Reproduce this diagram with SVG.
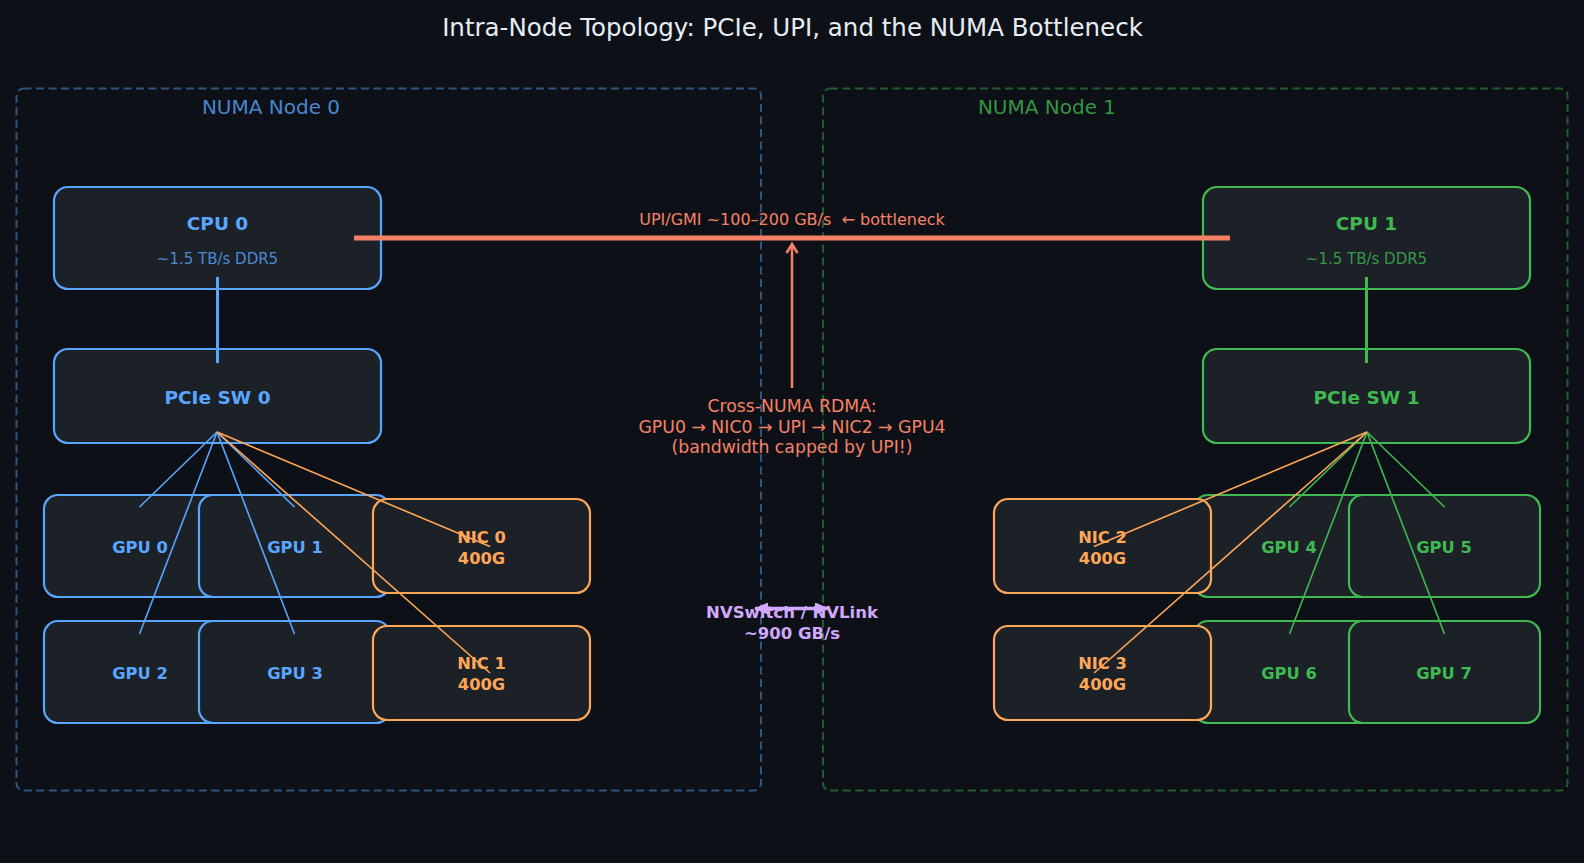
<svg xmlns="http://www.w3.org/2000/svg" width="1584" height="863" viewBox="0 0 1584 863">
<defs>
<style>
text{font-family:"DejaVu Sans","Liberation Sans",sans-serif;text-anchor:middle}
.b{font-weight:bold}
.node{fill:#1c2128;stroke-width:2.2}
.blue{stroke:#58a6ff}.green{stroke:#3fb950}.orange{stroke:#ffa657}
.tb{fill:#58a6ff}.tg{fill:#3fb950}.to{fill:#ffa657}
.numa{fill:none;stroke-width:2;stroke-dasharray:8 4.5;stroke-opacity:0.45}
.fan{stroke-width:1.6;fill:none}
.sal{fill:#f78166}
</style>
<marker id="nvh" viewBox="0 0 14 12" refX="13" refY="6" markerWidth="14" markerHeight="12" markerUnits="userSpaceOnUse" orient="auto-start-reverse">
<path d="M0,0 L14,6 L0,12 Z" fill="#d2a8ff"/>
</marker>
</defs>
<rect width="1584" height="863" fill="#0d1117"/>
<text x="792.5" y="35.5" font-size="24.5" fill="#e6edf3">Intra-Node Topology: PCIe, UPI, and the NUMA Bottleneck</text>

<g id="numa0">
<rect class="numa blue" x="16.5" y="88.5" width="744.5" height="702" rx="7"/>
<text x="271" y="114" font-size="20" fill="#58a6ff" fill-opacity="0.8">NUMA Node 0</text>
</g>
<g id="numa1">
<rect class="numa green" x="823" y="88.5" width="744.5" height="702" rx="7"/>
<text x="1047" y="114" font-size="20" fill="#3fb950" fill-opacity="0.8">NUMA Node 1</text>
</g>

<g id="cpu0">
<rect class="node blue" x="54" y="187" width="327" height="102" rx="14"/>
<text class="b tb" x="217.5" y="230" font-size="18.5">CPU 0</text>
<text class="tb" x="217.5" y="263.5" font-size="15" fill-opacity="0.8">~1.5 TB/s DDR5</text>
</g>
<g id="pcie0">
<rect class="node blue" x="54" y="349" width="327" height="94" rx="14"/>
<text class="b tb" x="217.5" y="404" font-size="18.5">PCIe SW 0</text>
</g>
<g id="gpu0">
<rect class="node blue" x="44" y="495" width="191" height="102" rx="14"/>
<text class="b tb" x="140" y="553" font-size="16.3">GPU 0</text>
</g>
<g id="gpu1">
<rect class="node blue" x="199" y="495" width="191" height="102" rx="14"/>
<text class="b tb" x="295" y="553" font-size="16.3">GPU 1</text>
</g>
<g id="gpu2">
<rect class="node blue" x="44" y="621" width="191" height="102" rx="14"/>
<text class="b tb" x="140" y="679" font-size="16.3">GPU 2</text>
</g>
<g id="gpu3">
<rect class="node blue" x="199" y="621" width="191" height="102" rx="14"/>
<text class="b tb" x="295" y="679" font-size="16.3">GPU 3</text>
</g>
<g id="nic0">
<rect class="node orange" x="373" y="499" width="217" height="94" rx="14"/>
<text class="b to" x="481.5" y="543" font-size="16.3">NIC 0</text>
<text class="b to" x="481.5" y="564" font-size="16.3">400G</text>
</g>
<g id="nic1">
<rect class="node orange" x="373" y="626" width="217" height="94" rx="14"/>
<text class="b to" x="481.5" y="669" font-size="16.3">NIC 1</text>
<text class="b to" x="481.5" y="690" font-size="16.3">400G</text>
</g>

<g id="cpu1">
<rect class="node green" x="1203" y="187" width="327" height="102" rx="14"/>
<text class="b tg" x="1366.5" y="230" font-size="18.5">CPU 1</text>
<text class="tg" x="1366.5" y="263.5" font-size="15" fill-opacity="0.8">~1.5 TB/s DDR5</text>
</g>
<g id="pcie1">
<rect class="node green" x="1203" y="349" width="327" height="94" rx="14"/>
<text class="b tg" x="1366.5" y="404" font-size="18.5">PCIe SW 1</text>
</g>
<g id="gpu4">
<rect class="node green" x="1194" y="495" width="191" height="102" rx="14"/>
<text class="b tg" x="1289" y="553" font-size="16.3">GPU 4</text>
</g>
<g id="gpu5">
<rect class="node green" x="1349" y="495" width="191" height="102" rx="14"/>
<text class="b tg" x="1444" y="553" font-size="16.3">GPU 5</text>
</g>
<g id="gpu6">
<rect class="node green" x="1194" y="621" width="191" height="102" rx="14"/>
<text class="b tg" x="1289" y="679" font-size="16.3">GPU 6</text>
</g>
<g id="gpu7">
<rect class="node green" x="1349" y="621" width="191" height="102" rx="14"/>
<text class="b tg" x="1444" y="679" font-size="16.3">GPU 7</text>
</g>
<g id="nic2">
<rect class="node orange" x="994" y="499" width="217" height="94" rx="14"/>
<text class="b to" x="1102.5" y="543" font-size="16.3">NIC 2</text>
<text class="b to" x="1102.5" y="564" font-size="16.3">400G</text>
</g>
<g id="nic3">
<rect class="node orange" x="994" y="626" width="217" height="94" rx="14"/>
<text class="b to" x="1102.5" y="669" font-size="16.3">NIC 3</text>
<text class="b to" x="1102.5" y="690" font-size="16.3">400G</text>
</g>

<g id="connectors">
<line x1="217.5" y1="277" x2="217.5" y2="363" stroke="#58a6ff" stroke-width="3"/>
<line x1="1366.5" y1="277" x2="1366.5" y2="363" stroke="#3fb950" stroke-width="3"/>
<g class="fan" stroke="#58a6ff">
<line x1="217" y1="432" x2="139.5" y2="507"/>
<line x1="217" y1="432" x2="294.5" y2="507"/>
<line x1="217" y1="432" x2="139.5" y2="634"/>
<line x1="217" y1="432" x2="294.5" y2="634"/>
</g>
<g class="fan" stroke="#ffa657">
<line x1="217" y1="432" x2="490" y2="546.5"/>
<line x1="217" y1="432" x2="490" y2="673"/>
</g>
<g class="fan" stroke="#3fb950">
<line x1="1367" y1="432" x2="1444.5" y2="507"/>
<line x1="1367" y1="432" x2="1289.5" y2="507"/>
<line x1="1367" y1="432" x2="1444.5" y2="634"/>
<line x1="1367" y1="432" x2="1289.5" y2="634"/>
</g>
<g class="fan" stroke="#ffa657">
<line x1="1367" y1="432" x2="1094" y2="546.5"/>
<line x1="1367" y1="432" x2="1094" y2="673"/>
</g>
<line x1="354" y1="238" x2="1230" y2="238" stroke="#f78166" stroke-width="5"/>
<text class="sal" x="792" y="225" font-size="16" xml:space="preserve">UPI/GMI ~100–200 GB/s  ← bottleneck</text>
<line x1="792" y1="388" x2="792" y2="245" stroke="#f78166" stroke-width="2.5"/>
<polyline points="786.5,253 792,244 797.5,253" fill="none" stroke="#f78166" stroke-width="2.5"/>
<text class="sal" x="792" y="412" font-size="17.3">Cross-NUMA RDMA:</text>
<text class="sal" x="792" y="432.7" font-size="17.3">GPU0 → NIC0 → UPI → NIC2 → GPU4</text>
<text class="sal" x="792" y="453.4" font-size="17.3">(bandwidth capped by UPI!)</text>
<text class="b" x="792" y="618" font-size="16.5" fill="#d2a8ff">NVSwitch / NVLink</text>
<text class="b" x="792" y="639" font-size="16.5" fill="#d2a8ff">~900 GB/s</text>
<line x1="755" y1="608.5" x2="828" y2="608.5" stroke="#d2a8ff" stroke-width="3.5" marker-start="url(#nvh)" marker-end="url(#nvh)"/>
</g>
</svg>
